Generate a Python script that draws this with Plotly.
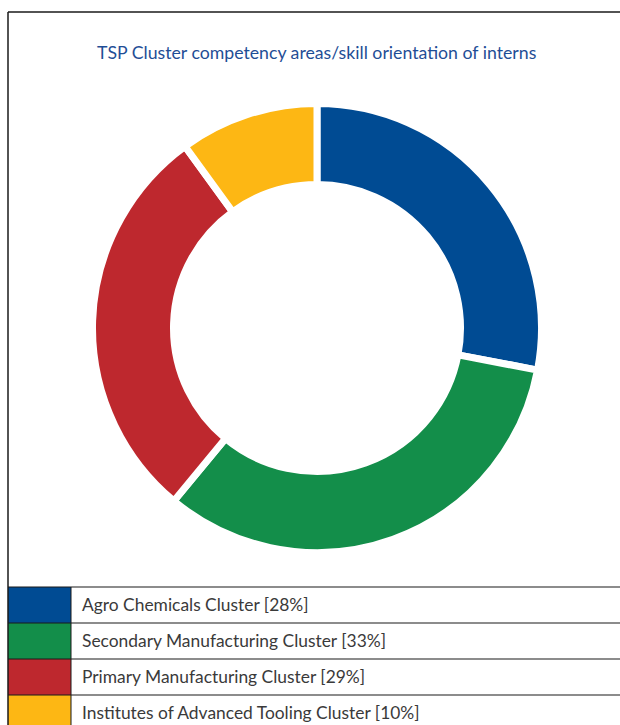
import plotly.graph_objects as go

# Chart data
categories = [
    "Agro Chemicals Cluster",
    "Secondary Manufacturing Cluster",
    "Primary Manufacturing Cluster",
    "Institutes of Advanced Tooling Cluster",
]
shares = [28, 33, 29, 10]
colors = ["#004B93", "#138E4A", "#BE282E", "#FDB714"]
title_text = "TSP Cluster competency areas/skill orientation of interns"

W, H = 620, 725


def px(x):
    return x / W


def py(y):
    return 1 - y / H


# Donut geometry (pixels)
cx, cy = 317, 328
gap = 7
R = 221 + gap / 2
hole = (147 - gap / 2) / R

fig = go.Figure()
fig.add_trace(go.Pie(
    labels=categories,
    values=shares,
    marker=dict(colors=colors, line=dict(color="white", width=gap)),
    hole=hole,
    sort=False,
    direction="clockwise",
    rotation=0,
    textinfo="none",
    hoverinfo="label+percent",
    showlegend=False,
    domain=dict(x=[px(cx - R), px(cx + R)], y=[py(cy + R), py(cy - R)]),
))

shapes = []
annotations = []
line_col = "#1a1a1a"

# Outer frame (left and top edges)
shapes.append(dict(type="line", xref="paper", yref="paper",
                   x0=px(8), x1=px(8), y0=py(12), y1=py(H),
                   line=dict(color=line_col, width=1.5)))
shapes.append(dict(type="line", xref="paper", yref="paper",
                   x0=px(8), x1=px(W), y0=py(12), y1=py(12),
                   line=dict(color=line_col, width=1.5)))

# Legend table below the donut
row_top = 587
row_h = 36
for i, (name, val, col) in enumerate(zip(categories, shares, colors)):
    y0 = row_top + i * row_h
    y1 = y0 + row_h
    shapes.append(dict(type="rect", xref="paper", yref="paper",
                       x0=px(8), x1=px(71), y0=py(y1), y1=py(y0),
                       fillcolor=col, line=dict(width=0), layer="below"))
    shapes.append(dict(type="line", xref="paper", yref="paper",
                       x0=px(8), x1=px(W), y0=py(y0), y1=py(y0),
                       line=dict(color=line_col, width=1.2)))
    annotations.append(dict(
        xref="paper", yref="paper", x=px(80), y=py(y0 + row_h / 2 - 0.5),
        xanchor="left", yanchor="middle", showarrow=False,
        text=f"{name} [{val}%]",
        font=dict(family="Lato", size=17.4, color="#3a3a3a"),
    ))
shapes.append(dict(type="line", xref="paper", yref="paper",
                   x0=px(71), x1=px(71), y0=py(H), y1=py(row_top),
                   line=dict(color=line_col, width=1)))

# Title
annotations.append(dict(
    xref="paper", yref="paper", x=px(317), y=py(52),
    xanchor="center", yanchor="middle", showarrow=False,
    text=title_text,
    font=dict(family="Lato", size=17.7, color="#1F4E96"),
))

fig.update_layout(
    width=W, height=H,
    margin=dict(l=0, r=0, t=0, b=0),
    paper_bgcolor="white",
    plot_bgcolor="white",
    shapes=shapes,
    annotations=annotations,
)

fig.write_html("out.html")
